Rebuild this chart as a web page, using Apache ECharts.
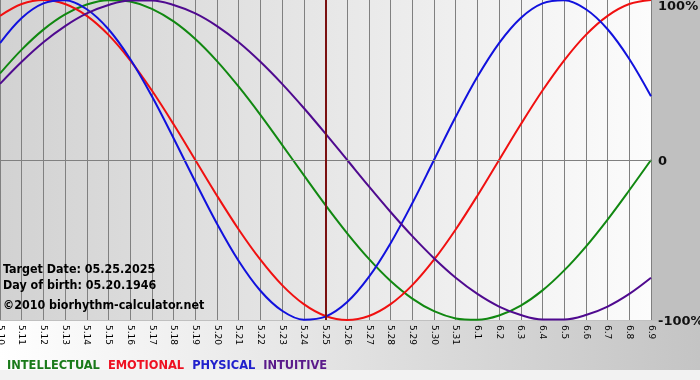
<!DOCTYPE html>
<html><head><meta charset="utf-8">
<script src="https://cdn.jsdelivr.net/npm/echarts@6/dist/echarts.min.js"></script>
<style>html,body{margin:0;padding:0;background:#c0c0c0}#c{width:700px;height:380px}</style>
</head><body><div id="c"></div>
<script>
var categories = ['5.10','5.11','5.12','5.13','5.14','5.15','5.16','5.17','5.18','5.19','5.20','5.21','5.22','5.23','5.24','5.25','5.26','5.27','5.28','5.29','5.30','5.31','6.1','6.2','6.3','6.4','6.5','6.6','6.7','6.8','6.9'];
var intellectual = [54.1,69.0,81.5,91.0,97.2,99.9,99.0,94.5,86.6,75.6,61.8,45.8,28.2,9.5,-9.5,-28.2,-45.8,-61.8,-75.6,-86.6,-94.5,-99.0,-99.9,-97.2,-91.0,-81.5,-69.0,-54.1,-37.2,-18.9,0];
var emotional = [90.1,97.5,100,97.5,90.1,78.2,62.3,43.4,22.3,0,-22.3,-43.4,-62.3,-78.2,-90.1,-97.5,-100,-97.5,-90.1,-78.2,-62.3,-43.4,-22.3,0,22.3,43.4,62.3,78.2,90.1,97.5,100];
var physical = [73.1,88.8,97.9,99.8,94.2,81.7,63.1,39.8,13.6,-13.6,-39.8,-63.1,-81.7,-94.2,-99.8,-97.9,-88.8,-73.1,-52.0,-27.0,0,27.0,52.0,73.1,88.8,97.9,99.8,94.2,81.7,63.1,39.8];
var intuitive = [47.6,61.4,73.6,83.7,91.6,96.9,99.7,99.7,96.9,91.6,83.7,73.6,61.4,47.6,32.5,16.5,0,-16.5,-32.5,-47.6,-61.4,-73.6,-83.7,-91.6,-96.9,-99.7,-99.7,-96.9,-91.6,-83.7,-73.6];
var yTicks = [-100, 0, 100];
var targetDay = '5.25';
var infoLines = ['Target Date: 05.25.2025', 'Day of birth: 05.20.1946', '\u00a92010 biorhythm-calculator.net'];
var seriesNames = ['INTELLECTUAL', 'EMOTIONAL', 'PHYSICAL', 'INTUITIVE'];

var colors = ['#118811', '#f01010', '#1111dd', '#4f0a8f'];
var textColors = ['#1a7a1a', '#ee1122', '#2020cc', '#5a1a8a'];
var dataSets = [intellectual, emotional, physical, intuitive];

var chart = echarts.init(document.getElementById('c'), null, {renderer: 'canvas'});
var series = dataSets.map(function (d, i) {
  var s = {
    name: seriesNames[i], type: 'line', data: d, smooth: 0.35,
    showSymbol: false, symbol: 'none',
    lineStyle: {color: colors[i], width: 2}, itemStyle: {color: colors[i]},
    animation: false, z: 3
  };
  if (i === 0) {
    s.markLine = {
      silent: true, symbol: 'none', animation: false, label: {show: false},
      data: [
        {yAxis: 0, lineStyle: {color: '#808080', width: 1, type: 'solid'}},
        {xAxis: targetDay, lineStyle: {color: '#7a1010', width: 2, type: 'solid'}}
      ]
    };
  }
  return s;
});

chart.setOption({
  backgroundColor: '#c0c0c0',
  animation: false,
  grid: {
    left: 0, right: 49, top: 0, bottom: 60, show: true, borderWidth: 0,
    containLabel: false, outerBoundsMode: 'none',
    backgroundColor: {type: 'linear', x: 0, y: 0, x2: 1, y2: 0,
      colorStops: [{offset: 0, color: '#d2d2d2'}, {offset: 1, color: '#fcfcfc'}]}
  },
  legend: {
    left: -3, top: 354, itemWidth: 0, itemHeight: 0, itemGap: 3, icon: 'rect',
    selectedMode: false,
    textStyle: {fontFamily: 'DejaVu Sans Condensed', fontWeight: 'bold', fontSize: 12.7},
    data: seriesNames.map(function (n, i) { return {name: n, textStyle: {color: textColors[i]}}; })
  },
  xAxis: {
    type: 'category', data: categories, boundaryGap: false,
    axisLine: {show: true, lineStyle: {color: '#808080'}},
    axisTick: {show: true, length: 4, interval: 0, lineStyle: {color: '#808080'}},
    splitLine: {show: true, interval: 0, lineStyle: {color: '#808080', width: 1}},
    axisLabel: {rotate: -90, interval: 0, margin: 5, color: '#000', fontSize: 9, fontFamily: 'DejaVu Sans'}
  },
  yAxis: {
    type: 'value', position: 'right', min: -100, max: 100, interval: 100,
    axisLine: {show: false}, axisTick: {show: false}, splitLine: {show: false},
    axisLabel: {
      margin: 7, color: '#111', fontSize: 13, fontWeight: 'bold', fontFamily: 'DejaVu Sans',
      formatter: function (v) {
        if (v === 100) return '{t|100%}';
        if (v === 0) return '{m|0}';
        return '{b|-100%}';
      },
      rich: {
        t: {fontSize: 13, fontWeight: 'bold', padding: [14, 0, 0, 0]},
        m: {fontSize: 13, fontWeight: 'bold', padding: [4, 0, 0, 0]},
        b: {fontSize: 13, fontWeight: 'bold', padding: [4, 0, 0, 0]}
      }
    }
  },
  graphic: [
    {type: 'rect', z: -10, silent: true, shape: {x: 0, y: 321, width: 700, height: 49},
      style: {fill: {type: 'linear', x: 0, y: 0, x2: 1, y2: 0,
        colorStops: [{offset: 0, color: '#ffffff'}, {offset: 1, color: '#c4c4c4'}]}}},
    {type: 'rect', z: -10, silent: true, shape: {x: 0, y: 370, width: 700, height: 10},
      style: {fill: '#f2f2f2'}},
    {type: 'text', z: 100, left: 3, top: 264, silent: true,
      style: {text: infoLines[0], fill: '#000', font: 'bold 12.4px "DejaVu Sans Condensed"'}},
    {type: 'text', z: 100, left: 3, top: 280, silent: true,
      style: {text: infoLines[1], fill: '#000', font: 'bold 12.4px "DejaVu Sans Condensed"'}},
    {type: 'text', z: 100, left: 3, top: 300, silent: true,
      style: {text: infoLines[2], fill: '#000', font: 'bold 12.4px "DejaVu Sans Condensed"'}}
  ],
  series: series
});
</script></body></html>
